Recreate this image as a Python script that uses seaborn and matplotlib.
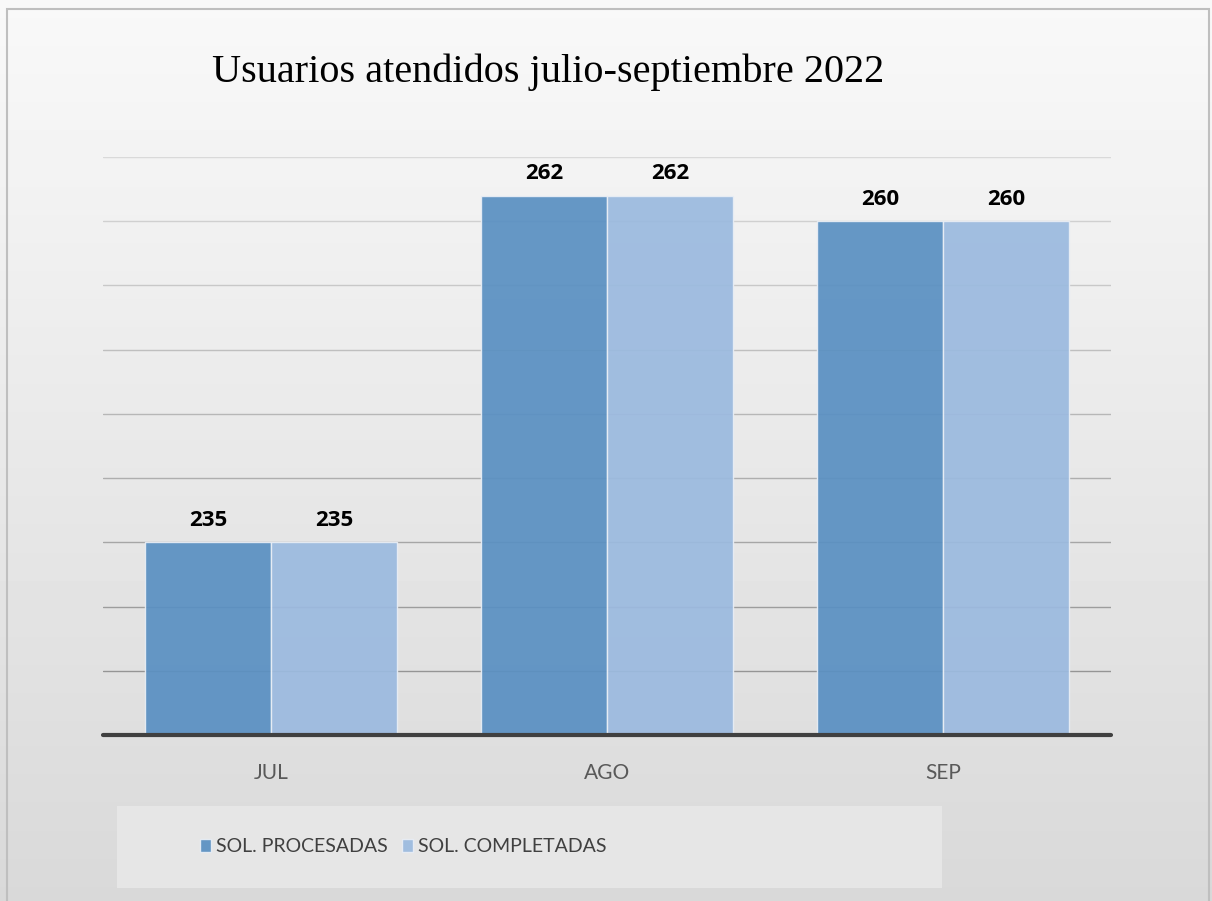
import numpy as np
import pandas as pd
import matplotlib.pyplot as plt
import matplotlib.patches as mpatches
import seaborn as sns

# datos del grafico
meses = ['JUL', 'AGO', 'SEP']
procesadas = [235, 262, 260]
completadas = [235, 262, 260]
series = ['SOL. PROCESADAS', 'SOL. COMPLETADAS']
colores = ['#5A90C2', '#9BBADF']

df = pd.DataFrame({
    'mes': meses * 2,
    'valor': procesadas + completadas,
    'serie': [series[0]] * 3 + [series[1]] * 3,
})

sns.set_style('white')
plt.rcParams['font.family'] = ['Lato', 'DejaVu Sans']

fig = plt.figure(figsize=(12.12, 9.01), dpi=100)

# fondo degradado
bg = fig.add_axes([0, 0, 1, 1], zorder=-10)
grad = np.linspace(0.975, 0.85, 256).reshape(-1, 1)
bg.imshow(grad, aspect='auto', cmap='gray', vmin=0, vmax=1, extent=[0, 1, 0, 1])
bg.set_xlim(0, 1)
bg.set_ylim(0, 1)
bg.axis('off')
# borde
bg.add_patch(mpatches.Rectangle((7 / 1212, -0.01), (1209 - 7) / 1212, 1 - 9 / 901 + 0.01,
                                fill=False, edgecolor='#bfbfbf', lw=1.5))
# caja de leyenda
bg.add_patch(mpatches.Rectangle((117 / 1212, 1 - 888 / 901), (942 - 117) / 1212, (888 - 806) / 901,
                                facecolor='#e6e6e6', edgecolor='none'))

ax = fig.add_axes([103 / 1212, 1 - 735 / 901, (1111 - 103) / 1212, (735 - 157) / 901])
ax.patch.set_alpha(0)

ymin, ymax = 220, 265
ax.set_ylim(ymin, ymax)
# lineas de cuadricula con degradado
for v in np.arange(225, 266, 5):
    t = (v - ymin) / (ymax - ymin)
    g = 0.55 + 0.3 * t
    ax.axhline(v, color=(g, g, g), lw=1, zorder=0)

sns.barplot(data=df, x='mes', y='valor', hue='serie', palette=colores, width=0.75,
            saturation=1, alpha=0.93, edgecolor='#e9eef5', linewidth=1, ax=ax,
            legend=False, zorder=2)

for c in ax.containers:
    ax.bar_label(c, fontsize=16, fontweight='bold', color='black', padding=8,
                 family=['Open Sans', 'DejaVu Sans'])

ax.axhline(ymin, color='#404040', lw=3, zorder=5, clip_on=False)
ax.set_xlim(-0.5, 2.5)
ax.set_yticks([])
ax.set_xlabel('')
ax.set_ylabel('')
ax.tick_params(axis='x', length=0, pad=20, labelsize=15, labelcolor='#595959')
for s in ax.spines.values():
    s.set_visible(False)

fig.text(212 / 1212, 1 - 72 / 901, 'Usuarios atendidos julio-septiembre 2022',
         family=['Liberation Serif', 'DejaVu Serif'], fontsize=29, color='black',
         ha='left', va='center')

handles = [mpatches.Patch(facecolor=colores[i], alpha=0.93, edgecolor='#e9eef5', label=series[i])
           for i in range(2)]
fig.legend(handles=handles, loc='center left', bbox_to_anchor=(190 / 1212, 1 - 847 / 901),
           ncol=2, frameon=False, fontsize=14, labelcolor='#404040', handlelength=0.6,
           handleheight=0.6, handletextpad=0.25, columnspacing=0.7, borderpad=0)

fig.savefig('out.png', dpi=100)
